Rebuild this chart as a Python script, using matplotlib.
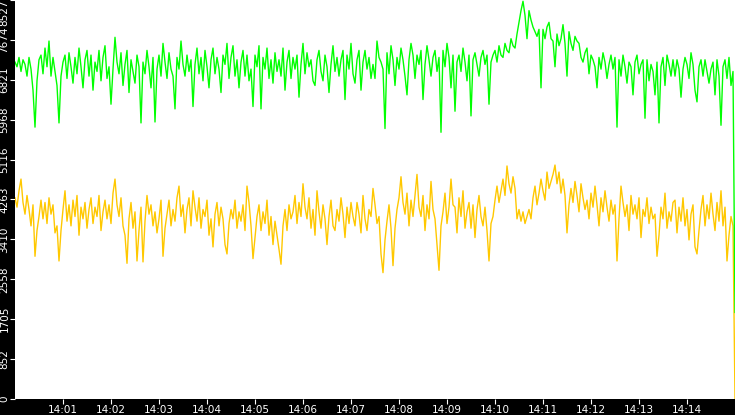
import numpy as np
import matplotlib
matplotlib.use("Agg")
import matplotlib.pyplot as plt

# sampling: one value every 2.5 s from 14:00:00 to 14:15:00
start_minute = 14 * 60
sample_seconds = 2.5

green_vals = [
    7200, 7100, 7300, 7000, 7250, 7150, 6900, 7300, 7050, 6600,
    5810, 6800, 7250, 7350, 6950, 7500, 7100, 7650, 6900, 7300,
    7000, 6700, 5900, 6900, 7200, 7350, 6850, 7400, 7100, 6750,
    7300, 6950, 7500, 7100, 6650, 7250, 7450, 6900, 7350, 6600,
    7200, 7000, 7450, 6800, 7300, 7550, 6850, 7100, 6300, 7050,
    7730, 7200, 6950, 7400, 6700, 7150, 7450, 6550, 7250, 7000,
    6750, 7350, 7100, 5900, 7200, 6950, 7450, 7100, 6650, 7300,
    5920, 7050, 7350, 6900, 7600, 7200, 6850, 7400, 7050, 6900,
    6200, 7300, 7050, 7650, 7150, 6900, 7350, 7000, 7250, 6250,
    7150, 7500, 6950, 7300, 6800, 7450, 7100, 6650, 7250, 7500,
    6950, 7300, 7050, 6550, 7350, 7150, 7600, 6850, 7300, 7550,
    6900, 7250, 6650, 7200, 7450, 6900, 7350, 6800, 7050, 6250,
    7350, 7100, 7550, 6200, 7300, 7050, 7500, 6850, 7250, 6750,
    7400, 7000, 7250, 6900, 7500, 6600, 7200, 7450, 6850, 7300,
    7050, 7350, 6450, 7150, 7600, 6950, 7400, 7100, 7250, 6800,
    6700, 7250, 7450, 7000, 6800, 7350, 7100, 6550, 7150, 7550,
    7000, 7300, 6900, 7250, 7450, 6400, 7350, 7050, 7600, 6950,
    6750, 7250, 7450, 6600, 7200, 7450, 7050, 7300, 6850, 7150,
    6850, 7650, 7300, 7200, 7050, 5780, 7400, 6950, 7550, 7250,
    6700, 7300, 7050, 7500, 7250, 6900, 6500, 7250, 7600, 7350,
    6850, 7350, 7150, 7450, 6400, 7150, 7550, 7250, 6900, 7300,
    7450, 7000, 7300, 5700, 7450, 7100, 7600, 7300, 6650, 7350,
    6150, 7200, 7350, 7000, 7500, 7200, 6800, 7350, 6050, 7250,
    7400, 7150, 6900, 7300, 7450, 7150, 7350, 6300, 7200, 7350,
    7450, 7200, 7550, 7350, 7300, 7600, 7450, 7400, 7700, 7550,
    7500, 7800, 8050, 8300, 8500, 8200, 7700, 8300, 8100, 7950,
    7850, 7750, 7900, 6650, 7900, 7700, 7950, 8050, 7700, 7650,
    7100, 7800, 7550, 7700, 8000, 7600, 6900, 7850, 7600, 7450,
    7750, 7650, 7600, 7300, 7200, 7400, 7500, 6950, 7350, 7250,
    7100, 6650, 7300, 7050, 7400, 7200, 6850, 7150, 7350, 7050,
    7300, 5810, 7250, 6900, 7350, 7100, 6750, 7200, 7100, 6500,
    7200, 7350, 6950, 7150, 7250, 6000, 7250, 6800, 7150, 7000,
    6500, 7200, 5900, 7100, 7300, 6700, 7350, 7150, 6900, 7250,
    6900, 7250, 7050, 6450, 7050, 7300, 7150, 6850, 7400, 7150,
    6600, 6350, 7100, 7250, 6900, 7250, 7000, 6750, 7050, 7200,
    6500, 7250, 6900, 5850, 7100, 7250, 6850, 7300, 6700, 7000,
    1850,
]

yellow_vals = [
    4300, 4100, 4450, 4700, 4200, 3950, 4350, 4050, 3700, 4150,
    3050, 3600, 3900, 4250, 3850, 4200, 3750, 4300, 3950, 4150,
    3550, 3700, 2950, 3600, 4050, 4450, 3800, 4150, 3700, 4250,
    3900, 4350, 3500, 4100, 3850, 4200, 3650, 4050, 4300, 3750,
    4100, 3900, 4350, 3600, 4000, 4250, 3850, 4150, 3750, 4400,
    4700, 4150, 3900, 4300, 3700, 3500, 2900, 3850, 4200, 3650,
    4000, 2950, 3600, 4100, 2930, 3800, 4350, 3950, 4150, 3700,
    4000, 3550, 3850, 4250, 3050, 3650, 3950, 4250, 3700, 4050,
    3800, 4300, 4550, 3900, 4150, 3550, 4050, 4300, 3700, 4450,
    4100, 3800, 4300, 3650, 4050, 3900, 4250, 3500, 3850, 3250,
    3950, 4200, 3700, 4100, 3850, 3300, 3100, 3750, 4050, 3850,
    4250, 3650, 4000, 3800, 4150, 3600, 4550, 4200, 3700, 3000,
    3450, 3900, 4150, 3600, 4000, 3750, 4250, 3500, 3900, 3300,
    3800, 3500, 3200, 2880, 3700, 4050, 3600, 4150, 3850, 4000,
    4350, 3750, 4200, 3900, 4600, 4100, 3850, 4300, 3650, 4050,
    3500, 4450, 4000, 3650, 4150, 3850, 3300, 3900, 4250, 3700,
    3600, 4050, 3800, 4300, 3950, 3450, 4100, 3750, 4200, 3900,
    3700, 4200, 3950, 3550, 4350, 3850, 3600, 4050, 3900, 4500,
    4150, 3750, 3900, 3100, 2700, 3400, 3800, 4150, 3650, 2850,
    3650, 4050, 4300, 4750, 4200, 3950, 4400, 3700, 4250, 3900,
    4350, 4800, 4100, 3900, 4350, 3600, 4150, 3850, 4650, 4050,
    3850, 3300, 2750, 3700, 4000, 4400, 3750, 4100, 4700, 4150,
    4100, 3550, 4300, 3900, 4450, 3650, 4000, 4200, 3650, 4150,
    3450, 4050, 4350, 3900, 3700, 4100, 3600, 2950, 3750, 3900,
    4250, 4550, 4200, 4450, 4700, 4350, 4980, 4600, 4400, 4750,
    4500, 3850, 4050, 3800, 4000, 3750, 3900, 4050, 3850, 4300,
    4550, 4150, 4400, 4700, 4450, 4250, 4850, 4500, 4650, 4800,
    5000, 4600, 4850, 4400, 4700, 4350, 3550, 4150, 4500, 4200,
    4650, 4350, 4000, 4600, 4300, 4050, 4250, 3850, 4400, 4100,
    4550, 4150, 3700, 4300, 4000, 4450, 4100, 3800, 4250, 3950,
    4150, 2950, 3850, 4550, 4200, 3900, 4150, 3600, 4350, 3950,
    4150, 3850, 4300, 3450, 4050, 3900, 4300, 3750, 4100, 3850,
    3950, 3050, 3500, 4100, 3850, 4400, 3650, 4000, 3800, 4200,
    4250, 3550, 4100, 3800, 4300, 3700, 4050, 3400, 3950, 4150,
    3250, 3100, 3600, 4050, 4350, 3700, 4150, 3850, 4400, 3950,
    3600, 4200, 3800, 4450, 3700, 4100, 2950, 3500, 3900, 3700,
    0,
]

y_ticks = [0, 852.7, 1705.4, 2558.1, 3410.8, 4263.5, 5116.2, 5968.9, 6821.6, 7674.3, 8527]
y_labels = ["0", "852", "1705", "2558", "3410", "4263", "5116", "5968", "6821", "7674", "8527"]
x_tick_minutes = list(range(1, 15))
x_labels = ["14:%02d" % m for m in x_tick_minutes]

minutes = start_minute + np.arange(len(green_vals)) * sample_seconds / 60.0

fig = plt.figure(figsize=(7.35, 4.15), dpi=100, facecolor="black")
ax = fig.add_axes([15 / 735, 16 / 415, 720 / 735, 399 / 415])
ax.set_facecolor("white")

ax.plot(minutes, yellow_vals, color="#FFC800", lw=1.0)
ax.plot(minutes, green_vals, color="#00FF00", lw=1.0)

ax.set_xlim(start_minute, start_minute + 15)
ax.set_ylim(0, 8527)

for s in ax.spines.values():
    s.set_visible(False)

ax.set_xticks([start_minute + m for m in x_tick_minutes])
ax.set_xticklabels(x_labels)
ax.set_yticks(y_ticks)
ax.set_yticklabels(y_labels, rotation=90, va="center")
ax.tick_params(axis="both", colors="white", labelcolor="white", labelsize=7.5,
               length=3.5, width=0.8, pad=0.5)
ax.get_yticklabels()[-1].set_va("top")

fig.savefig("out.png", dpi=100, facecolor="black")
